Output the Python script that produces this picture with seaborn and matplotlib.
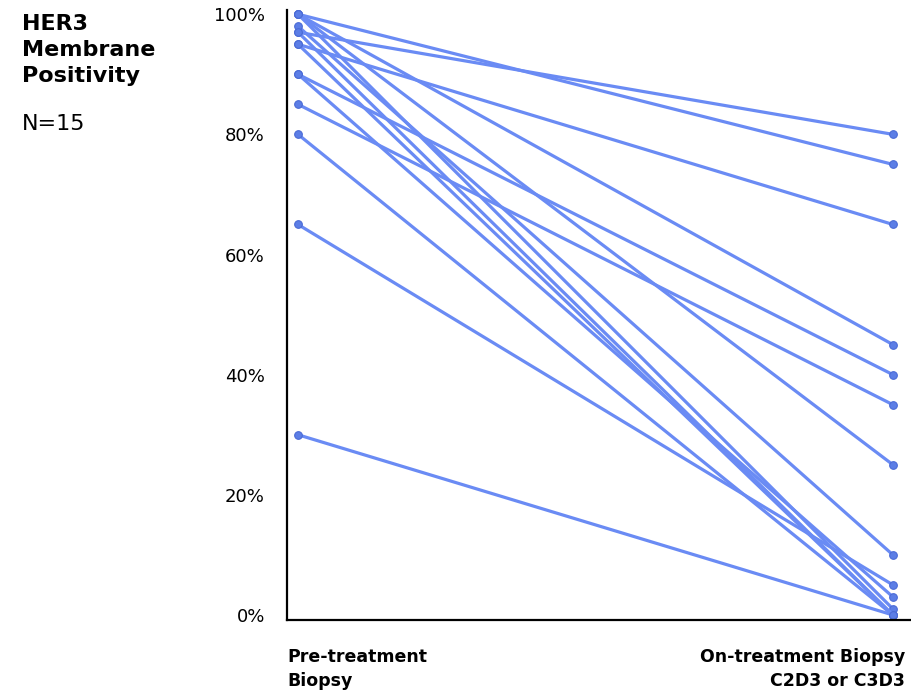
import matplotlib
matplotlib.use("Agg")
import matplotlib.pyplot as plt
import seaborn as sns
import pandas as pd

# HER3 membrane positivity (%) per patient, before and during treatment
pre_treatment = [100, 97, 95, 100, 90, 85, 100, 98, 65, 80, 30, 100, 95, 90, 97]
on_treatment = [75, 80, 65, 45, 40, 35, 25, 10, 5, 0, 0, 1, 0, 3, 0]
timepoints = ["Pre-treatment\nBiopsy", "On-treatment Biopsy\nC2D3 or C3D3"]
y_ticks = [0, 20, 40, 60, 80, 100]

line_color = "#6a8bf4"
marker_color = "#5c7ee6"
edge_color = "#4b6bd6"

rows = []
for pid, (a, b) in enumerate(zip(pre_treatment, on_treatment)):
    rows.append({"patient": pid, "visit": 0, "positivity": a})
    rows.append({"patient": pid, "visit": 1, "positivity": b})
df = pd.DataFrame(rows)

sns.set_style("white")
plt.rcParams["font.family"] = ["DejaVu Sans"]
plt.rcParams["text.color"] = "black"

W, H = 912, 694
fig = plt.figure(figsize=(W / 100, H / 100), dpi=100)
ax = fig.add_axes([287 / W, 1 - 620 / H, (W - 287) / W, (620 - 10) / H])

sns.lineplot(
    data=df, x="visit", y="positivity", units="patient", estimator=None,
    color=line_color, linewidth=2.3, marker="o", markersize=5.5,
    markerfacecolor=marker_color, markeredgecolor=edge_color,
    markeredgewidth=0.8, clip_on=False, legend=False, ax=ax,
)

ax.set_xlim(-11 / 595, 1 + 19 / 595)
ax.set_ylim(-0.83, 100.7)
ax.set_yticks(y_ticks)
ax.set_yticklabels([f"{t}%" for t in y_ticks], fontsize=13, color="black")
ax.set_xticks([])
ax.set_xlabel("")
ax.set_ylabel("")
ax.tick_params(axis="y", length=0, pad=16)

for side in ["top", "right"]:
    ax.spines[side].set_visible(False)
for side in ["left", "bottom"]:
    ax.spines[side].set_color("black")
    ax.spines[side].set_linewidth(1.6)

# category labels under the axis
fig.text(287 / W, 1 - 648 / H, timepoints[0], ha="left", va="top",
         fontsize=12.5, fontweight="bold", linespacing=1.45, color="black")
fig.text(905 / W, 1 - 648 / H, timepoints[1], ha="right", va="top",
         fontsize=12.5, fontweight="bold", linespacing=1.45,
         multialignment="right", color="black")

# panel title
fig.text(22 / W, 1 - 14 / H, "HER3\nMembrane\nPositivity", ha="left", va="top",
         fontsize=16, fontweight="bold", linespacing=1.37, color="black")
fig.text(22 / W, 1 - 114 / H, "N=15", ha="left", va="top", fontsize=16,
         color="black")

fig.savefig("out.png", dpi=100, facecolor="white")
